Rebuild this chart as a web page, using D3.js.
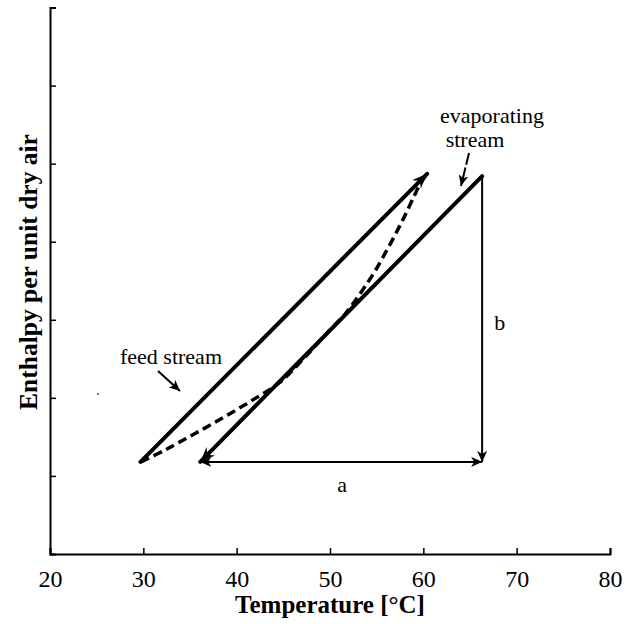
<!DOCTYPE html>
<html>
<head>
<meta charset="utf-8">
<script src="https://cdn.jsdelivr.net/npm/d3@7"></script>
<style>
  body { margin: 0; background: #fff; }
  text { font-family: "Liberation Serif", "Times New Roman", serif; fill: #000; }
</style>
</head>
<body>
<svg width="626" height="624"></svg>
<script>
(function (d3) {
  'use strict';

  // axis ticks
  const xTicks = [20, 30, 40, 50, 60, 70, 80];
  const yTicks = [0, 1, 2, 3, 4, 5, 6, 7];

  // streams, [temperature, enthalpy]
  const feedStream = [[29.7, 1.18], [60.4, 4.87]];
  const evapStream = [[66.3, 4.84], [36.1, 1.18]];
  const dashTemp = [29.75, 32.3, 35.5, 38.75, 41.95, 44.65, 47.3, 50.0, 51.6, 53.2, 54.8, 56.4, 57.8, 59.0, 59.75, 60.4];
  const dashEnth = [1.18, 1.33, 1.54, 1.76, 1.99, 2.20, 2.52, 2.87, 3.07, 3.33, 3.62, 3.96, 4.28, 4.58, 4.76, 4.87];
  const dashStream = dashTemp.map((t, i) => [t, dashEnth[i]]);

  // a and b dimension arrows
  const aArrow = [[36.1, 1.18], [66.3, 1.18]];
  const bArrow = [[66.3, 4.84], [66.3, 1.18]];

  const svg = d3.select('svg');

  const x = d3.scaleLinear().domain([20, 80]).range([50, 610]);
  const y = d3.scaleLinear().domain([0, 7]).range([554, 7.5]);

  const defs = svg.append('defs');
  function marker(id, len, half, notch) {
    defs.append('marker')
      .attr('id', id)
      .attr('markerUnits', 'userSpaceOnUse')
      .attr('viewBox', `0 ${-half} ${len} ${half * 2}`)
      .attr('refX', len)
      .attr('refY', 0)
      .attr('markerWidth', len)
      .attr('markerHeight', half * 2)
      .attr('orient', 'auto-start-reverse')
      .append('path')
        .attr('d', `M0,${-half}L${len},0L0,${half}L${notch},0Z`)
        .attr('fill', '#000');
  }
  marker('bigHead', 15, 6, 5);
  marker('smallHead', 11, 5, 3);

  // axes, ticks pointing inward
  const xAxis = d3.axisBottom(x)
    .tickValues(xTicks)
    .tickSizeInner(-6)
    .tickSizeOuter(-6)
    .tickPadding(16);
  const yAxis = d3.axisLeft(y)
    .tickValues(yTicks)
    .tickSizeInner(-6)
    .tickSizeOuter(-6)
    .tickFormat('');

  const gx = svg.append('g')
    .attr('transform', `translate(0,${y(0)})`)
    .call(xAxis);
  gx.selectAll('text')
    .attr('font-size', 24)
    .attr('font-family', '"Liberation Serif", serif');

  svg.append('g')
    .attr('transform', `translate(${x(20)},0)`)
    .call(yAxis);

  svg.selectAll('.domain').attr('stroke-width', 2);
  svg.selectAll('.tick line').attr('stroke-width', 1.5);

  svg.append('text')
    .attr('x', (x(20) + x(80)) / 2)
    .attr('y', 613)
    .attr('text-anchor', 'middle')
    .attr('font-size', 25)
    .attr('font-weight', 'bold')
    .text('Temperature [°C]');

  svg.append('text')
    .attr('transform', 'translate(37,272) rotate(-90)')
    .attr('text-anchor', 'middle')
    .attr('font-size', 25.5)
    .attr('font-weight', 'bold')
    .text('Enthalpy per unit dry air');

  const line = d3.line()
    .x(d => x(d[0]))
    .y(d => y(d[1]));
  const smooth = d3.line()
    .x(d => x(d[0]))
    .y(d => y(d[1]))
    .curve(d3.curveCatmullRom);

  svg.append('path')
    .attr('d', line(feedStream))
    .attr('fill', 'none')
    .attr('stroke', '#000')
    .attr('stroke-width', 4)
    .attr('stroke-linecap', 'round')
    .attr('marker-end', 'url(#bigHead)');

  svg.append('path')
    .attr('d', line(evapStream))
    .attr('fill', 'none')
    .attr('stroke', '#000')
    .attr('stroke-width', 4)
    .attr('stroke-linecap', 'round')
    .attr('marker-end', 'url(#bigHead)');

  svg.append('path')
    .attr('d', smooth(dashStream))
    .attr('fill', 'none')
    .attr('stroke', '#000')
    .attr('stroke-width', 3.5)
    .attr('stroke-dasharray', '9,5');

  svg.append('path')
    .attr('d', line(aArrow))
    .attr('fill', 'none')
    .attr('stroke', '#000')
    .attr('stroke-width', 2)
    .attr('marker-start', 'url(#smallHead)')
    .attr('marker-end', 'url(#smallHead)');

  svg.append('path')
    .attr('d', line(bArrow))
    .attr('fill', 'none')
    .attr('stroke', '#000')
    .attr('stroke-width', 2)
    .attr('marker-end', 'url(#smallHead)');

  // labels
  svg.append('text')
    .attr('x', x(51.3)).attr('y', 492)
    .attr('text-anchor', 'middle')
    .attr('font-size', 22)
    .text('a');

  svg.append('text')
    .attr('x', x(68.2)).attr('y', 330)
    .attr('text-anchor', 'middle')
    .attr('font-size', 22)
    .text('b');

  svg.append('text')
    .attr('x', 120).attr('y', 364)
    .attr('font-size', 22)
    .text('feed stream');

  svg.append('text')
    .attr('x', 492).attr('y', 123)
    .attr('text-anchor', 'middle')
    .attr('font-size', 22)
    .text('evaporating');
  svg.append('text')
    .attr('x', 475).attr('y', 147)
    .attr('text-anchor', 'middle')
    .attr('font-size', 22)
    .text('stream');

  // pointer arrows
  svg.append('line')
    .attr('x1', 158).attr('y1', 371)
    .attr('x2', 180).attr('y2', 391)
    .attr('stroke', '#000')
    .attr('stroke-width', 2)
    .attr('marker-end', 'url(#smallHead)');

  svg.append('line')
    .attr('x1', 469).attr('y1', 153)
    .attr('x2', 461).attr('y2', 186)
    .attr('stroke', '#000')
    .attr('stroke-width', 2)
    .attr('stroke-dasharray', '12,3')
    .attr('marker-end', 'url(#smallHead)');

  // scan speck
  svg.append('circle')
    .attr('cx', 98).attr('cy', 394)
    .attr('r', 1)
    .attr('fill', '#444');

}(d3));
</script>
</body>
</html>
